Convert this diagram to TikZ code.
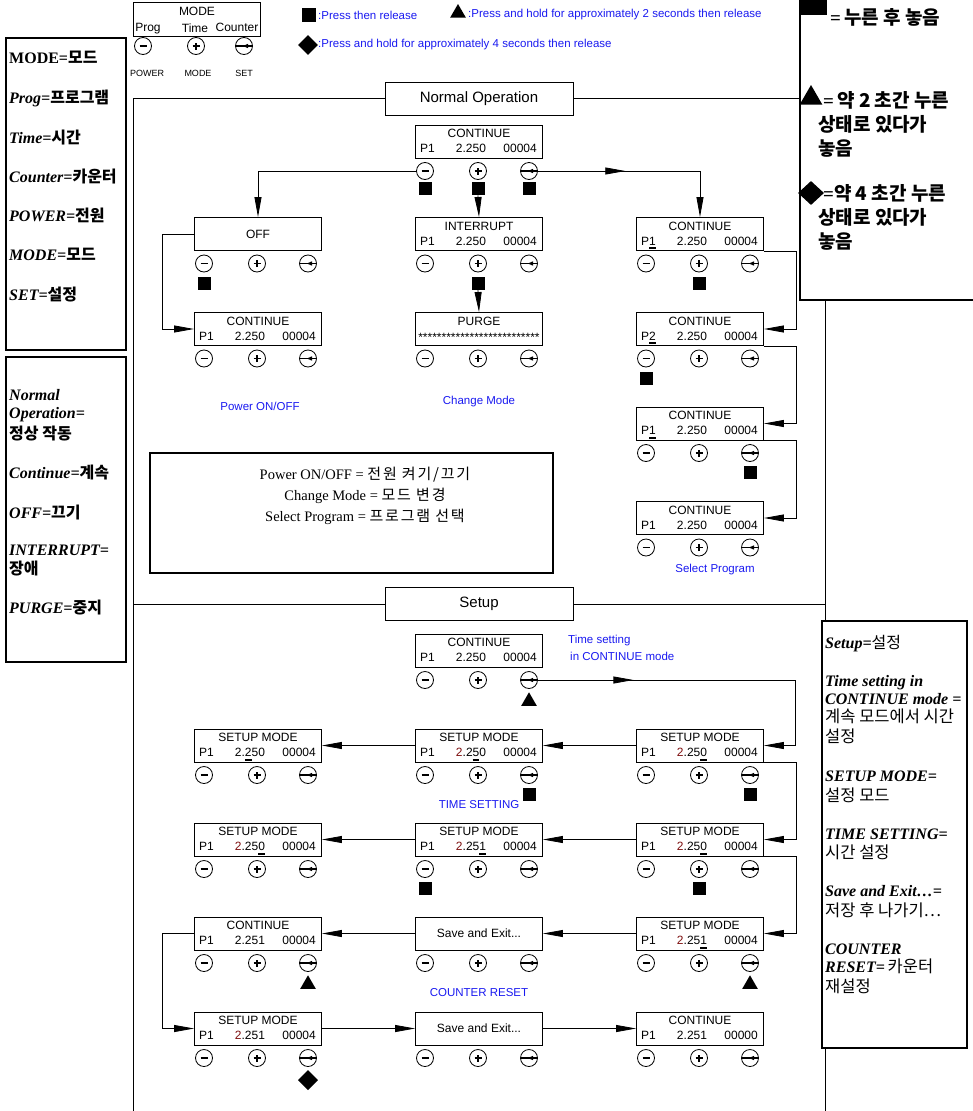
\documentclass[tikz,border=0pt]{standalone}
\usepackage{fontspec}
\setmainfont{Liberation Sans}
\newfontfamily\tmsfont{Liberation Serif}
\newfontfamily\krfont{Noto Sans CJK KR}
\usetikzlibrary{arrows.meta,shapes.geometric,positioning,decorations.markings}

\definecolor{lblue}{RGB}{25,25,240}
\definecolor{dred}{RGB}{125,15,15}

\newcommand{\krb}[1]{{\krfont\upshape\bfseries #1}}
\newcommand{\krr}[1]{{\krfont\upshape\mdseries #1}}
\newcommand{\cur}[1]{\setbox0\hbox{#1}\rlap{\rule[-4pt]{\wd0}{1.8pt}}\box0\relax}
\newcommand{\rd}[1]{\textcolor{dred}{#1}}

\tikzset{
  dispbox/.style={draw, line width=0.9pt, minimum width=127pt, minimum height=33pt, inner sep=0pt},
  lcd/.style={inner sep=0pt, anchor=base, font=\fontsize{12}{14}\selectfont},
  key/.style={circle, draw, line width=0.8pt, minimum size=17pt, inner sep=0pt},
  keym/.style={key, path picture={\draw[line width=1.7pt] ([xshift=-3.5pt]path picture bounding box.center) -- ([xshift=3.5pt]path picture bounding box.center);}},
  keyp/.style={key, path picture={\draw[line width=1.4pt] ([xshift=-3.5pt]path picture bounding box.center) -- ([xshift=3.5pt]path picture bounding box.center) ([yshift=-3.5pt]path picture bounding box.center) -- ([yshift=3.5pt]path picture bounding box.center);}},
  keys/.style={key, path picture={\draw[line width=1.4pt] ([xshift=-9pt]path picture bounding box.center) -- ([xshift=9pt]path picture bounding box.center); \fill ([xshift=-1pt]path picture bounding box.center) -- ++(5pt,2.2pt) -- ++(0pt,-4.4pt) -- cycle;}},
  sqmark/.style={fill, minimum size=13pt, inner sep=0pt},
  trimark/.style={regular polygon, regular polygon sides=3, fill, minimum size=18pt, inner sep=0pt},
  dmmark/.style={diamond, fill, minimum width=20pt, minimum height=20pt, inner sep=0pt},
  arr/.style={line width=0.8pt, -{Triangle[length=20pt,width=7pt]}},
  link/.style={line width=0.8pt},
  midarr/.style={postaction={decorate}, decoration={markings, mark=at position #1 with {\arrow{Triangle[length=20pt,width=7pt]}}}},
  hdr/.style={draw, fill=white, line width=0.8pt, minimum width=188pt, minimum height=33pt, font=\fontsize{15}{18}\selectfont},
  bluelbl/.style={text=lblue, inner sep=0pt, font=\fontsize{11.5}{17}\selectfont},
  notebox/.style={draw, fill=white, line width=1.2pt, inner sep=0pt},
  nt/.style={anchor=base west, inner sep=0pt, font=\tmsfont\bfseries\itshape\fontsize{16}{19}\selectfont},
  nr/.style={anchor=base west, inner sep=0pt, font=\tmsfont\bfseries\itshape\fontsize{16}{19}\selectfont},
  tr/.style={anchor=base west, inner sep=0pt, font=\tmsfont\bfseries\fontsize{19}{22}\selectfont}
}

\newcommand{\panel}[7]{%
  \node[dispbox] (#1) at (#2,#3) {};
  \node[lcd] (#1-t) at (#2,#3-4) {#4};
  \node[lcd, anchor=base west] (#1-a) at (#2-59,#3+11) {#5};
  \node[lcd] (#1-b) at (#2-8,#3+11) {#6};
  \node[lcd, anchor=base east] (#1-c) at (#2+58,#3+11) {#7};
  \node[keym] (#1-m) at (#2-54,#3+29.5) {};
  \node[keyp] (#1-p) at (#2-1,#3+29.5) {};
  \node[keys] (#1-s) at (#2+50,#3+29.5) {};
}
\newcommand{\panelone}[4]{%
  \node[dispbox, font=\fontsize{12}{14}\selectfont] (#1) at (#2,#3) {#4};
  \node[keym] (#1-m) at (#2-54,#3+29.5) {};
  \node[keyp] (#1-p) at (#2-1,#3+29.5) {};
  \node[keys] (#1-s) at (#2+50,#3+29.5) {};
}
\newcommand{\panelx}[5]{%
  \node[dispbox] (#1) at (#2,#3) {};
  \node[lcd] (#1-t) at (#2,#3-4) {#4};
  \node[lcd] (#1-b) at (#2,#3+12) {#5};
  \node[keym] (#1-m) at (#2-54,#3+29.5) {};
  \node[keyp] (#1-p) at (#2-1,#3+29.5) {};
  \node[keys] (#1-s) at (#2+50,#3+29.5) {};
}

\begin{document}
\begin{tikzpicture}[x=1pt,y=-1pt]
\useasboundingbox (0,0) rectangle (972,1111);

% key legend
\node[draw, line width=0.8pt, minimum width=127pt, minimum height=34pt, inner sep=0pt] (kbox) at (196.5,19) {};
\node[lcd] (kmode) at (197,15) {MODE};
\node[lcd] (kprog) at (148,31) {Prog};
\node[lcd] (ktime) at (195,32) {Time};
\node[lcd] (kcnt) at (237,31) {Counter};
\node[keym] (kpm) at (143,46) {};
\node[keyp] (kpp) at (196,46) {};
\node[keys] (kps) at (244,46) {};
\node[lcd, font=\fontsize{9}{11}\selectfont] (kpow) at (147,76) {POWER};
\node[lcd, font=\fontsize{9}{11}\selectfont] (kmod) at (198,76) {MODE};
\node[lcd, font=\fontsize{9}{11}\selectfont] (kset) at (244,76) {SET};

\node[sqmark, minimum size=14pt] (lsq) at (309,15) {};
\node[bluelbl, anchor=west] (lsqt) at (318,15) {:Press then release};
\node[trimark] (ltri) at (458,13) {};
\node[bluelbl, anchor=west] (ltrit) at (468,15) {:Press and hold for approximately 2 seconds then release};
\node[dmmark] (ldm) at (308,45) {};
\node[bluelbl, anchor=west] (ldmt) at (318,45) {:Press and hold for approximately 4 seconds then release};

% frame
\node[hdr] (hno) at (479,98.5) {Normal Operation};
\node[hdr] (hsu) at (479,604) {Setup};
\draw[link] (hno.west) -- (133,98.5) -- (133,1115);
\draw[link] (hno.east) -- (825,98.5) -- (825,1115);
\draw[link] (hsu.west) -- (133,604);
\draw[link] (hsu.east) -- (825,604);

% normal operation
\panel{d1}{479}{141.5}{CONTINUE}{P1}{2.250}{00004}
\panelone{off}{258}{234}{OFF}
\panel{int}{479}{234}{INTERRUPT}{P1}{2.250}{00004}
\panel{c1}{700}{234}{CONTINUE}{P\cur{1}}{2.250}{00004}
\panel{c2}{258}{329}{CONTINUE}{P1}{2.250}{00004}
\panelx{pg}{479}{329}{PURGE}{**************************}
\panel{p2}{700}{329}{CONTINUE}{P\cur{2}}{2.250}{00004}
\panel{p3}{700}{423.5}{CONTINUE}{P\cur{1}}{2.250}{00004}
\panel{p4}{700}{518}{CONTINUE}{P1}{2.250}{00004}

\node[sqmark, below=2pt of d1-m] (d1-q1) {};
\node[sqmark, below=2pt of d1-p] (d1-q2) {};
\node[sqmark, below=2pt of d1-s] (d1-q3) {};
\node[sqmark, below=4pt of off-m] (off-q) {};
\node[sqmark, below=4pt of int-p] (int-q) {};
\node[sqmark, below=4pt of c1-p] (c1-q) {};
\node[sqmark, below=4pt of p2-m] (p2-q) {};
\node[sqmark, below=4pt of p3-s] (p3-q) {};

\draw[arr] (d1-m.west) -| (off.north);
\draw[arr] (d1-q2.south) -- (int.north);
\draw[arr, midarr=0.42] (d1-s.east) -| (c1.north);
\draw[arr] (off.west) -- ++(-32,0) |- (c2.west);
\draw[arr] (int-q.south) -- (pg.north);
\draw[arr] (c1.south east) -- ++(32,0) |- (p2.east);
\draw[arr] (p2.south east) -- ++(32,0) |- (p3.east);
\draw[arr] (p3.south east) -- ++(32,0) |- (p4.east);

\node[bluelbl] (lpow) at (260,406) {Power ON/OFF};
\node[bluelbl] (lchg) at (479,402) {Change Mode};
\node[bluelbl] (lsel) at (715,570) {Select Program};

\node[notebox, minimum width=403pt, minimum height=120pt] (nbox) at (351.5,513) {};
\node[align=center, inner sep=0pt, font=\tmsfont\fontsize{14.5}{21}\selectfont] (ntxt) at (365,496) {Power ON/OFF = \krr{\fontsize{15}{21}\selectfont\addfontfeature{LetterSpace=12}전원 켜기/끄기}\\ Change Mode = \krr{\fontsize{15}{21}\selectfont\addfontfeature{LetterSpace=12}모드 변경}\\ Select Program = \krr{\fontsize{15}{21}\selectfont\addfontfeature{LetterSpace=12}프로그램 선택}};

% setup
\panel{s0}{479}{650.5}{CONTINUE}{P1}{2.250}{00004}
\panel{l1}{258}{745.5}{SETUP MODE}{P1}{2.\cur{2}50}{00004}
\panel{m1}{479}{745.5}{SETUP MODE}{P1}{\rd{2}.2\cur{5}0}{00004}
\panel{r1}{700}{745.5}{SETUP MODE}{P1}{\rd{2}.25\cur{0}}{00004}
\panel{l2}{258}{839.5}{SETUP MODE}{P1}{\rd{2}.25\cur{0}}{00004}
\panel{m2}{479}{839.5}{SETUP MODE}{P1}{\rd{2}.25\cur{1}}{00004}
\panel{r2}{700}{839.5}{SETUP MODE}{P1}{\rd{2}.25\cur{0}}{00004}
\panel{l3}{258}{933.5}{CONTINUE}{P1}{2.251}{00004}
\panelone{m3}{479}{933.5}{Save and Exit...}
\panel{r3}{700}{933.5}{SETUP MODE}{P1}{\rd{2}.25\cur{1}}{00004}
\panel{l4}{258}{1028.5}{SETUP MODE}{P1}{\rd{2}.251}{00004}
\panelone{m4}{479}{1028.5}{Save and Exit...}
\panel{r4}{700}{1028.5}{CONTINUE}{P1}{2.251}{00000}

\node[trimark, below=3pt of s0-s] (s0-q) {};
\node[sqmark, below=4pt of m1-s] (m1-q) {};
\node[sqmark, below=4pt of r1-s] (r1-q) {};
\node[sqmark, below=4pt of m2-m] (m2-q) {};
\node[sqmark, below=4pt of r2-p] (r2-q) {};
\node[trimark, below=3pt of l3-s] (l3-q) {};
\node[trimark, below=3pt of r3-s] (r3-q) {};
\node[dmmark, below=3pt of l4-s] (l4-q) {};

\coordinate (k1) at (795,680);
\draw[arr, midarr=0.27] (s0-s.east) -- (k1) |- (r1.east);
\draw[arr] (r1.west) -- (m1.east);
\draw[arr] (m1.west) -- (l1.east);
\draw[arr] (r1.south east) -- ++(32,0) |- (r2.east);
\draw[arr] (r2.west) -- (m2.east);
\draw[arr] (m2.west) -- (l2.east);
\draw[arr] (r2.south east) -- ++(32,0) |- (r3.east);
\draw[arr] (r3.west) -- (m3.east);
\draw[arr] (m3.west) -- (l3.east);
\draw[arr] (l3.west) -- ++(-32,0) |- (l4.west);
\draw[arr] (l4.east) -- (m4.west);
\draw[arr] (m4.east) -- (r4.west);

\node[bluelbl, align=left, anchor=north west] (ltset) at (568,635) {Time setting\\\hspace{2pt}in CONTINUE mode};
\node[bluelbl] (ltime) at (479,805) {TIME SETTING};
\node[bluelbl] (lcnt) at (479,993) {COUNTER RESET};

% notes
\node[notebox, minimum width=120pt, minimum height=312pt] (lb1) at (66,194) {};
\node[nt] (lb1a) at (9,63) {\upshape MODE=\krb{모드}};
\node[nt] (lb1b) at (9,103) {Prog=\krb{프로그램}};
\node[nt] (lb1c) at (9,143) {Time=\krb{시간}};
\node[nt] (lb1d) at (9,182) {Counter=\krb{카운터}};
\node[nt] (lb1e) at (9,221) {POWER=\krb{전원}};
\node[nt] (lb1f) at (9,260) {MODE=\krb{모드}};
\node[nt] (lb1g) at (9,300) {SET=\krb{설정}};

\node[notebox, minimum width=120pt, minimum height=305pt] (lb2) at (66,509.5) {};
\node[nt] (lb2a) at (9,400) {Normal};
\node[nt] (lb2b) at (9,418) {Operation=};
\node[nt] (lb2c) at (9,439) {\krb{정상 작동}};
\node[nt] (lb2d) at (9,478) {Continue=\krb{계속}};
\node[nt] (lb2e) at (9,518) {OFF=\krb{끄기}};
\node[nt] (lb2f) at (9,555) {INTERRUPT=};
\node[nt] (lb2g) at (9,574) {\krb{장애}};
\node[nt] (lb2h) at (9,613) {PURGE=\krb{중지}};

\node[notebox, minimum width=180pt, minimum height=310pt] (rb1) at (890,145) {};
\node[fill, minimum width=27pt, minimum height=20pt, inner sep=0pt] (rb1sq) at (813.5,5) {};
\node[tr] (rb1a) at (830,24) {=\,\krb{누른 후 놓음}};
\node[trimark, minimum size=26pt] (rb1tri) at (811,98) {};
\node[tr] (rb1b) at (823,107) {=\,\krb{약 2 초간 누른}};
\node[tr] (rb1c) at (818,131) {\krb{상태로 있다가}};
\node[tr] (rb1d) at (818,155) {\krb{놓음}};
\node[dmmark, minimum width=26pt, minimum height=24pt] (rb1dm) at (811,193) {};
\node[tr] (rb1e) at (823,200) {=\krb{약 4 초간 누른}};
\node[tr] (rb1f) at (818,224) {\krb{상태로 있다가}};
\node[tr] (rb1g) at (818,248) {\krb{놓음}};

\node[notebox, minimum width=145pt, minimum height=427pt] (rb2) at (894.5,834.5) {};
\node[nr] (rb2a) at (825,648) {Setup=\krr{설정}};
\node[nr] (rb2b) at (825,686) {Time setting in};
\node[nr] (rb2c) at (825,704) {CONTINUE mode =};
\node[nr] (rb2d) at (825,722) {\krr{\fontsize{16.5}{19}\selectfont 계속 모드에서 시간}};
\node[nr] (rb2e) at (825,742) {\krr{\fontsize{16.5}{19}\selectfont 설정}};
\node[nr] (rb2f) at (825,781) {SETUP MODE=};
\node[nr] (rb2g) at (825,801) {\krr{\fontsize{16.5}{19}\selectfont 설정 모드}};
\node[nr] (rb2h) at (825,839) {TIME SETTING=};
\node[nr] (rb2i) at (825,858) {\krr{\fontsize{16.5}{19}\selectfont 시간 설정}};
\node[nr] (rb2j) at (825,896) {Save and Exit…=};
\node[nr] (rb2k) at (825,916) {\krr{\fontsize{16.5}{19}\selectfont 저장 후 나가기…}};
\node[nr] (rb2l) at (825,954) {COUNTER};
\node[nr] (rb2m) at (825,972) {RESET=\,\krr{\fontsize{16.5}{19}\selectfont 카운터}};
\node[nr] (rb2n) at (825,992) {\krr{\fontsize{16.5}{19}\selectfont 재설정}};

\end{tikzpicture}
\end{document}
